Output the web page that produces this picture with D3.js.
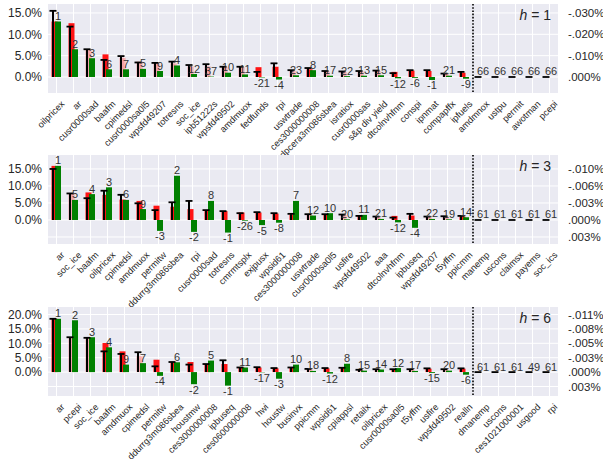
<!DOCTYPE html>
<html><head><meta charset="utf-8">
<script src="https://cdn.jsdelivr.net/npm/d3@7"></script>
<style>body{margin:0;background:#fff}svg{display:block}</style>
</head><body>
<script>
// ---------- data ----------
const cats1 = ["oilpricex","ar","cusr0000sad","baafm","cpimedsl","cusr0000sa0l5","wpsfd49207","totresns","soc_ice","ipb51222s","wpsfd49502","amdmuox","fedfunds","rpi","uswtrade","ces3000000008","dpcera3m086sbea","isratiox","cusr0000sas","s&p div yield","dtcolnvhfnm","conspi","ipnmat","compapffx","ipfuels","amdmnox","ustpu","permit","awotman","pcepi"];
const red1   = [13.0,12.6,6.3,5.3,4.5,3.6,3.2,3.2,2.5,2.5,2.4,2.3,2.3,2.4,1.5,1.8,1.3,1.2,1.3,1.4,1.2,1.5,1.4,0.7,1.0,0,0,0,0,0];
const strong1= [1,1,0,1,0,0,0,0,0,0,0,0,1,1,0,1,0,0,0,0,1,1,1,0,1,0,0,0,0,0];
const black1 = [15.5,11.8,6.5,4.0,4.9,3.4,3.3,3.6,2.8,3.0,2.4,2.4,1.2,3.2,1.6,2.1,1.4,1.3,1.4,1.5,0.9,1.6,1.6,0.8,1.2,0,0,0,0,0];
const green1 = [13.0,6.5,4.4,1.8,1.8,1.9,1.4,2.7,0.7,0.1,1.0,0.6,-0.1,-0.6,0.4,1.6,0.3,0.2,0.3,0.4,-0.3,-0.2,-0.7,0.3,-0.4,0,0,0,0,0];
const labels1= [1,2,3,6,7,5,9,4,12,37,10,11,-21,-4,23,8,17,22,13,15,-12,-6,-1,21,-9,66,66,66,66,66];

const cats2 = ["ar","soc_ice","baafm","oilpricex","cpimedsl","amdmuox","permitw","ddurrg3m086sbea","rpi","cusr0000sad","totresns","cmrmtsplx","exjpusx","wpsid61","ces3000000008","uswtrade","cusr0000sa0l5","usfire","wpsfd49502","aaa","dtcolnvhfnm","ipbuseq","wpsfd49207","t5yffm","ppicmm","manemp","uscons","claimsx","payems","soc_ics"];
const red2   = [15.9,7.8,8.1,7.4,6.0,5.6,4.2,3.9,3.2,2.9,2.6,2.2,2.2,1.9,1.6,1.5,1.6,1.5,1.2,0.8,1.2,1.3,1.0,1.0,1.0,0,0,0,0,0];
const strong2= [1,0,1,1,1,1,1,1,1,1,1,1,1,1,1,0,1,0,1,0,1,1,0,0,1,0,0,0,0,0];
const black2 = [15.0,7.8,6.4,8.6,7.4,4.9,2.9,5.2,5.6,2.9,2.6,2.0,2.3,2.0,1.8,1.7,1.7,1.6,1.2,1.0,0.7,1.8,1.0,1.1,1.2,0,0,0,0,0];
const green2 = [15.9,5.9,7.6,9.6,5.9,3.2,-3.2,13.0,-3.5,5.6,-3.7,-0.2,-1.5,-0.8,5.6,1.3,2.0,0.2,1.5,0.3,-0.7,-2.3,0.3,0.2,0.8,0,0,0,0,0];
const labels2= [1,5,4,3,6,9,-3,2,-2,8,-1,-26,-5,-8,7,12,10,20,11,21,-12,-4,22,19,14,61,61,61,61,61];

const cats3 = ["ar","pcepi","soc_ice","baafm","amdmuox","cpimedsl","permitw","ddurrg3m086sbea","houstmw","ces3000000008","ipbuseq","ces0600000008","hwi","houstw","businvx","ppicmm","wpsid61","cpiappsl","retailx","oilpricex","cusr0000sa0l5","t5yffm","usfire","wpsfd49502","realln","dmanemp","uscons","ces1021000001","usgood","rpi"];
const red3   = [18.5,12.0,11.9,10.1,7.2,5.5,4.3,3.3,3.5,2.8,2.8,1.6,1.6,1.3,1.5,1.0,1.3,1.5,0.7,1.0,1.0,0.9,1.2,0.9,1.2,0,0,0,0,0];
const strong3= [1,0,0,1,1,0,1,1,1,1,1,1,1,1,1,0,1,1,0,0,1,0,1,0,1,0,0,0,0,0];
const black3 = [18.5,12.1,11.9,7.2,6.3,6.9,2.0,3.5,2.6,2.8,4.1,1.6,1.7,1.4,1.6,1.1,1.4,1.5,0.8,1.0,1.0,1.0,1.3,1.0,1.3,0,0,0,0,0];
const green3 = [18.5,18.0,12.1,8.6,2.6,3.1,-1.3,3.4,-4.2,4.0,-4.7,1.6,-0.1,-2.3,2.6,0.4,-0.5,2.9,0.5,0.9,1.4,0.4,-0.3,0.5,-0.9,0,0,0,0,0];
const labels3= [1,2,3,4,9,7,-4,6,-2,5,-1,11,-17,-3,10,18,-12,8,15,14,12,17,-15,20,-6,61,61,61,49,61];

const horizons = [1, 3, 6];
const yDomains = [[-3.75, 17.1], [-7.06, 19.1], [-8.3, 22.6]];
const leftTicks = [[0,5,10,15], [0,5,10,15], [0,5,10,15,20]];
const rightTickVals = [[15,10,5,0], [15,10,5,0,-5], [20,15,10,5,0,-5]];
const rightTickLabels = [["-.030%","-.020%","-.010%",".000%"],
                         ["-.010%","-.006%","-.003%",".000%",".003%"],
                         ["-.011%","-.008%","-.005%","-.003%",".000%",".003%"]];
const splitAfter = 25; // dotted separator after this many categories

// ---------- layout ----------
const W = 603, H = 459;
const panelTops = [4, 155, 307];
const panelH = 89;
const left = 48, right = 558;
const FONT = "'Liberation Sans', Arial, sans-serif";
const textCol = "#262626";

const svg = d3.select("body").append("svg").attr("width", W).attr("height", H)
  .style("font-family", FONT);

const panels = [
  {cats: cats1, red: red1, strong: strong1, black: black1, green: green1, labels: labels1},
  {cats: cats2, red: red2, strong: strong2, black: black2, green: green2, labels: labels2},
  {cats: cats3, red: red3, strong: strong3, black: black3, green: green3, labels: labels3}
];

panels.forEach((p, pi) => {
  const top = panelTops[pi], bottom = top + panelH;
  const x = d3.scaleBand().domain(p.cats).range([left, right]).paddingInner(0).paddingOuter(0);
  const y = d3.scaleLinear().domain(yDomains[pi]).range([bottom, top]);
  const bw = x.bandwidth();
  const cx = c => x(c) + bw / 2;
  const g = svg.append("g");

  g.append("rect").attr("x", left).attr("y", top).attr("width", right - left).attr("height", panelH)
    .attr("fill", "#EAEAF2");

  // grid
  const gridVals = Array.from(new Set([...leftTicks[pi], ...rightTickVals[pi]]));
  g.selectAll(".hg").data(gridVals).join("line")
    .attr("x1", left).attr("x2", right).attr("y1", d => y(d)).attr("y2", d => y(d))
    .attr("stroke", "#fff").attr("stroke-width", 1);
  g.selectAll(".vg").data(p.cats).join("line")
    .attr("x1", d => cx(d)).attr("x2", d => cx(d)).attr("y1", top).attr("y2", bottom)
    .attr("stroke", "#fff").attr("stroke-width", 1);

  const rows = p.cats.map((c, i) => ({c, r: p.red[i], s: p.strong[i], k: p.black[i], gr: p.green[i], lab: p.labels[i]}));

  // red bars
  g.selectAll(".red").data(rows).join("rect")
    .attr("x", d => cx(d.c) - 5).attr("width", 6)
    .attr("y", d => y(Math.max(0, d.r))).attr("height", d => Math.abs(y(d.r) - y(0)))
    .attr("fill", "#ff0000").attr("fill-opacity", d => d.s ? 0.92 : 0.3);

  // green bars
  g.selectAll(".grn").data(rows).join("rect")
    .attr("x", d => cx(d.c) - 1.5).attr("width", 6)
    .attr("y", d => y(Math.max(0, d.gr))).attr("height", d => Math.abs(y(d.gr) - y(0)))
    .attr("fill", "#008000");

  // black stems + caps
  g.selectAll(".stem").data(rows).join("line")
    .attr("x1", d => cx(d.c) - 3.5).attr("x2", d => cx(d.c) - 3.5)
    .attr("y1", y(0)).attr("y2", d => y(d.k))
    .attr("stroke", "#000").attr("stroke-width", 2);
  g.selectAll(".cap").data(rows).join("line")
    .attr("x1", d => cx(d.c) - 7).attr("x2", d => cx(d.c))
    .attr("y1", d => y(d.k)).attr("y2", d => y(d.k))
    .attr("stroke", "#000").attr("stroke-width", 1.8);

  // separator
  const sx = x(p.cats[splitAfter]);
  g.append("line").attr("x1", sx).attr("x2", sx).attr("y1", top).attr("y2", bottom)
    .attr("stroke", "#000").attr("stroke-width", 1.6).attr("stroke-dasharray", "1.6,1.6");

  // rank labels
  g.selectAll(".lab").data(rows).join("text")
    .attr("x", d => cx(d.c) + 1.5)
    .attr("y", d => d.gr < 0 ? y(d.gr) + 9.5 : y(d.gr) - 1.5)
    .attr("text-anchor", "middle").attr("font-size", 11).attr("fill", "#333")
    .text(d => d.lab);

  // left axis
  const ya = d3.axisLeft(y).tickValues(leftTicks[pi]).tickSize(0).tickPadding(6)
    .tickFormat(d => d3.format(".1f")(d) + "%");
  const ag = g.append("g").attr("transform", `translate(${left},0)`).call(ya);
  ag.select(".domain").remove();
  ag.selectAll("text").attr("font-size", 12).attr("fill", textCol).attr("font-family", FONT);

  // right axis (text labels)
  const yr = d3.axisRight(y).tickValues(rightTickVals[pi]).tickSize(0).tickPadding(10)
    .tickFormat((d, i) => rightTickLabels[pi][i]);
  const rg = g.append("g").attr("transform", `translate(${right},0)`).call(yr);
  rg.select(".domain").remove();
  rg.selectAll("text").attr("font-size", 11.5).attr("fill", textCol).attr("font-family", FONT);

  // x tick labels
  g.selectAll(".xl").data(p.cats).join("text")
    .attr("transform", d => `translate(${cx(d) + 4},${bottom + 7}) rotate(-45)`)
    .attr("text-anchor", "end").attr("dy", "0.7em")
    .attr("font-size", 9.2).attr("fill", textCol)
    .text(d => d);

  // horizon label
  const ht = g.append("text").attr("x", 551).attr("y", top + 16).attr("text-anchor", "end")
    .attr("font-size", 14).attr("fill", textCol);
  ht.append("tspan").attr("font-style", "italic").text("h");
  ht.append("tspan").text(" = " + horizons[pi]);
});
</script>
</body></html>
